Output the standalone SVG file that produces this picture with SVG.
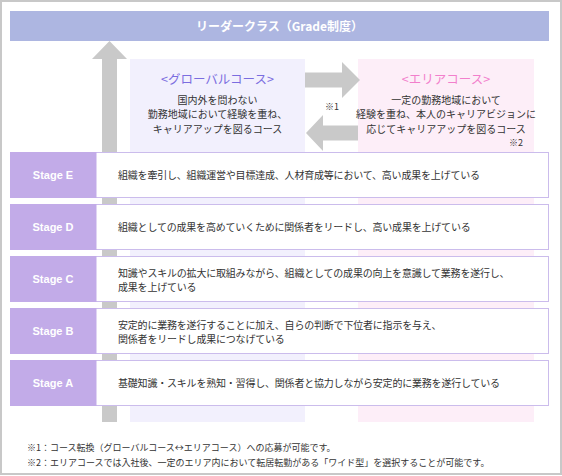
<svg xmlns="http://www.w3.org/2000/svg" width="562" height="476" viewBox="0 0 562 476">
<style>
.jp{font-family:"Noto Sans CJK JP","Noto Sans",sans-serif;fill:#333}
.desc{font-size:10px;letter-spacing:-0.2px}
.course{font-size:10px;text-anchor:middle}
.foot{font-size:9px}
.lbl{font-family:"Liberation Sans",Arial,sans-serif;font-size:11px;font-weight:bold;fill:#fff;text-anchor:middle}
.row{fill:#fff;stroke:#cbbcec;stroke-width:1}
.tag{fill:#c2abe8}
.arrow{fill:#c9c9c9}
</style>
<rect x="1" y="1" width="560" height="473" fill="#fff" stroke="#c8c8c8" stroke-width="2"/>
<g id="header">
<rect x="10" y="11" width="539" height="30" fill="#adb6e1"/>
<text x="279.5" y="30.5" class="jp" style="fill:#fff;font-size:12px;font-weight:bold;text-anchor:middle">リーダークラス（Grade制度）</text>
</g>
<g id="global-course">
<rect x="130" y="59" width="175" height="363" fill="#f2f0fd"/>
<text x="217.5" y="84" class="jp" style="font-size:12.5px;fill:#7b6de0;text-anchor:middle">&lt;グローバルコース&gt;</text>
<text x="217.5" y="103.5" class="jp course">国内外を問わない</text>
<text x="217.5" y="118" class="jp course">勤務地域において経験を重ね、</text>
<text x="217.5" y="132.5" class="jp course">キャリアアップを図るコース</text>
</g>
<g id="area-course">
<rect x="358" y="59" width="176" height="363" fill="#fdeef8"/>
<text x="446" y="84" class="jp" style="font-size:12.5px;fill:#f27fcc;text-anchor:middle">&lt;エリアコース&gt;</text>
<text x="446" y="103.5" class="jp course">一定の勤務地域において</text>
<text x="446" y="118" class="jp course">経験を重ね、本人のキャリアビジョンに</text>
<text x="446" y="132.5" class="jp course">応じてキャリアアップを図るコース</text>
<text x="523" y="146" class="jp" style="font-size:9px;text-anchor:end">※2</text>
</g>
<g id="connectors">
<polygon class="arrow" points="109.5,41 127,59 117,59 117,422 102,422 102,59 92,59"/>
<polygon class="arrow" points="305,72.5 342,72.5 342,62 360,80 342,98 342,87.5 305,87.5"/>
<polygon class="arrow" points="358,125.5 323,125.5 323,115 306,133 323,151 323,140.5 358,140.5"/>
<text x="332" y="110" class="jp" style="font-size:9px;text-anchor:middle">※1</text>
</g>
<g id="stage-e">
<rect class="row" x="10.5" y="152.5" width="538" height="45"/>
<rect class="tag" x="10" y="152" width="86.5" height="46"/>
<text x="53" y="179" class="lbl">Stage E</text>
<text x="118" y="179" class="jp desc">組織を牽引し、組織運営や目標達成、人材育成等において、高い成果を上げている</text>
</g>
<g id="stage-d">
<rect class="row" x="10.5" y="204.5" width="538" height="45"/>
<rect class="tag" x="10" y="204" width="86.5" height="46"/>
<text x="53" y="231" class="lbl">Stage D</text>
<text x="118" y="231" class="jp desc">組織としての成果を高めていくために関係者をリードし、高い成果を上げている</text>
</g>
<g id="stage-c">
<rect class="row" x="10.5" y="256.5" width="538" height="45"/>
<rect class="tag" x="10" y="256" width="86.5" height="46"/>
<text x="53" y="283" class="lbl">Stage C</text>
<text x="118" y="277" class="jp desc">知識やスキルの拡大に取組みながら、組織としての成果の向上を意識して業務を遂行し、</text>
<text x="118" y="291" class="jp desc">成果を上げている</text>
</g>
<g id="stage-b">
<rect class="row" x="10.5" y="308.5" width="538" height="45"/>
<rect class="tag" x="10" y="308" width="86.5" height="46"/>
<text x="53" y="335" class="lbl">Stage B</text>
<text x="118" y="329" class="jp desc">安定的に業務を遂行することに加え、自らの判断で下位者に指示を与え、</text>
<text x="118" y="343" class="jp desc">関係者をリードし成果につなげている</text>
</g>
<g id="stage-a">
<rect class="row" x="10.5" y="360.5" width="538" height="45"/>
<rect class="tag" x="10" y="360" width="86.5" height="46"/>
<text x="53" y="387" class="lbl">Stage A</text>
<text x="118" y="387" class="jp desc">基礎知識・スキルを熟知・習得し、関係者と協力しながら安定的に業務を遂行している</text>
</g>
<g id="footnotes">
<text x="27" y="451" class="jp foot">※1：コース転換（グローバルコース↔エリアコース）への応募が可能です。</text>
<text x="27" y="466" class="jp foot">※2：エリアコースでは入社後、一定のエリア内において転居転勤がある「ワイド型」を選択することが可能です。</text>
</g>
</svg>
